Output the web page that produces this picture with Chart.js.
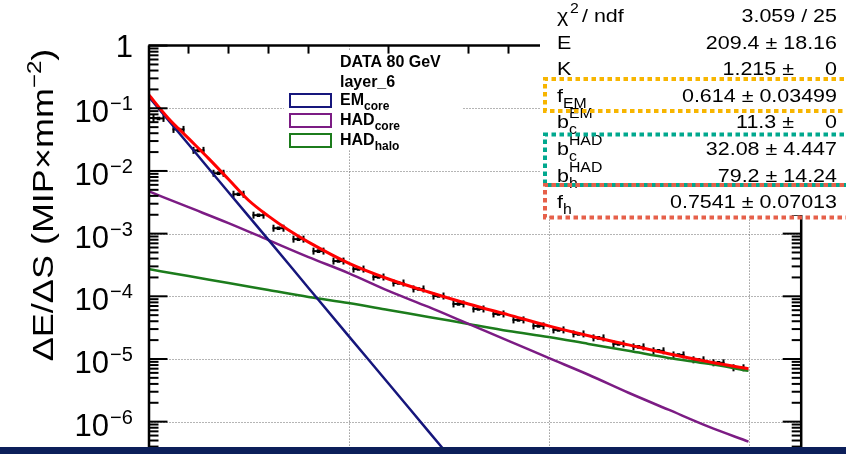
<!DOCTYPE html>
<html>
<head>
<meta charset="utf-8">
<script src="https://cdn.jsdelivr.net/npm/chart.js@4.4.1/dist/chart.umd.min.js"></script>
<style>
  html, body { margin: 0; padding: 0; background: #fff; }
  #wrap { position: relative; width: 846px; height: 454px; }
</style>
</head>
<body>
<div id="wrap"><canvas id="c" width="846" height="454"></canvas></div>
<script>
// ---- measured lateral profile (bin centres in mm, 5 mm bins) ----
const binCentres = [2.5, 7.5, 12.5, 17.5, 22.5, 27.5, 32.5, 37.5, 42.5, 47.5,
    52.5, 57.5, 62.5, 67.5, 72.5, 77.5, 82.5, 87.5, 92.5, 97.5,
    102.5, 107.5, 112.5, 117.5, 122.5, 127.5, 132.5, 137.5, 142.5, 147.5];
const dataValues = [0.0689, 0.0460, 0.0213, 0.00918, 0.00425, 0.00197, 0.00122, 8.17e-4, 5.26e-4, 3.65e-4,
    2.72e-4, 2.03e-4, 1.63e-4, 1.31e-4, 1.01e-4, 7.55e-5, 6.28e-5, 5.23e-5, 4.20e-5, 3.37e-5,
    2.91e-5, 2.51e-5, 2.17e-5, 1.74e-5, 1.56e-5, 1.35e-5, 1.16e-5, 9.70e-6, 8.69e-6, 7.23e-6];
const xError = 1.5;

// ---- fitted function and its components ----
const fitX = [0, 5, 10, 15, 20, 25, 30, 35, 40, 50, 60, 70, 80, 90, 100, 110, 120, 130, 140, 150];
const fitTotal = [0.166, 0.0689, 0.0331, 0.0159, 7.37e-3, 3.41e-3, 1.90e-3, 1.14e-3, 7.32e-4, 3.39e-4,
    1.89e-4, 1.17e-4, 7.55e-5, 5.05e-5, 3.37e-5, 2.34e-5, 1.68e-5, 1.21e-5, 9.02e-6, 6.97e-6];
const emX = [0, 10, 20, 30, 40, 50, 60, 70, 75];
const emCore = [0.154, 0.0266, 4.57e-3, 7.94e-4, 1.36e-4, 2.34e-5, 4.07e-6, 7.0e-7, 2.92e-7];
const hadX = [0, 10, 20, 30, 40, 50, 60, 70, 80, 90, 100, 110, 120, 130, 140, 150];
const hadCore = [4.75e-3, 2.64e-3, 1.47e-3, 7.87e-4, 4.22e-4, 2.35e-4, 1.22e-4, 6.76e-5,
    3.62e-5, 1.95e-5, 1.04e-5, 5.60e-6, 2.89e-6, 1.55e-6, 8.32e-7, 4.80e-7];
const hadHalo = [2.72e-4, 2.10e-4, 1.63e-4, 1.26e-4, 9.75e-5, 7.83e-5, 6.05e-5, 4.69e-5,
    3.62e-5, 2.80e-5, 2.25e-5, 1.74e-5, 1.35e-5, 1.04e-5, 8.37e-6, 6.48e-6];

// ---- axes ----
const yDecades = [1, 1e-1, 1e-2, 1e-3, 1e-4, 1e-5, 1e-6];
const yTickExp = ['', '\u22121', '\u22122', '\u22123', '\u22124', '\u22125', '\u22126'];
const xGridLines = [50, 100, 150];
const xTopTicks = [10, 20, 30, 40, 60, 80, 90];
const yTitle = ['\u0394E/\u0394S (MIP\u00d7mm', '\u22122', ')'];

// ---- legend / fit box text ----
const legendHeader = ['DATA 80 GeV', 'layer_6'];
const legendNames = [['EM', 'core'], ['HAD', 'core'], ['HAD', 'halo']];
const chi2Text = '3.059 / 25';
const parNames = ['E', 'K', 'f_EM', 'b_c^EM', 'b_c^HAD', 'b_h^HAD', 'f_h'];
const parValues = ['209.4', '1.215', '0.614', '11.3', '32.08', '79.2', '0.7541'];
const parErrors = ['18.16', '0', '0.03499', '0', '4.447', '14.24', '0.07013'];

const C_FIT = '#ff0000', C_EM = '#16167c', C_HADC = '#7c1c84', C_HALO = '#1c7c1c';
const FONT = "'Liberation Sans', Arial, Helvetica, sans-serif";

function txt(ctx, s, x, y, size, align, sx, bold) {
    ctx.save();
    ctx.font = (bold ? 'bold ' : '') + size + 'px ' + FONT;
    ctx.textAlign = align || 'left';
    ctx.textBaseline = 'alphabetic';
    ctx.translate(x, y);
    ctx.scale(sx || 1, 1);
    ctx.fillText(s, 0, 0);
    ctx.restore();
}
function width(ctx, s, size, sx, bold) {
    ctx.font = (bold ? 'bold ' : '') + size + 'px ' + FONT;
    return ctx.measureText(s).width * (sx || 1);
}
function seg(ctx, x1, y1, x2, y2) {
    ctx.beginPath(); ctx.moveTo(x1, y1); ctx.lineTo(x2, y2); ctx.stroke();
}

const rootStyle = {
    id: 'rootStyle',
    beforeDatasetsDraw(chart) {
        const { ctx, chartArea: a, scales: { x, y } } = chart;
        ctx.save();
        // dotted grid
        ctx.strokeStyle = '#6a6a6a';
        ctx.lineWidth = 1;
        ctx.setLineDash([1, 2]);
        yDecades.slice(1).forEach((v) => {
            const py = Math.round(y.getPixelForValue(v)) + 0.5;
            seg(ctx, a.left, py, a.right, py);
        });
        xGridLines.forEach((v) => {
            const px = Math.round(x.getPixelForValue(v)) + 0.5;
            seg(ctx, px, a.top, px, a.bottom);
        });
        ctx.setLineDash([]);
        // horizontal error bars with end caps
        ctx.strokeStyle = '#000';
        ctx.lineWidth = 2;
        binCentres.forEach((xc, i) => {
            const py = y.getPixelForValue(dataValues[i]);
            const x1 = x.getPixelForValue(xc - xError);
            const x2 = x.getPixelForValue(xc + xError);
            seg(ctx, x1, py, x2, py);
            seg(ctx, x1 + 1, py - 3.5, x1 + 1, py + 3.5);
            seg(ctx, x2 - 1, py - 3.5, x2 - 1, py + 3.5);
        });
        ctx.restore();
    },
    afterDatasetsDraw(chart) {
        const { ctx, chartArea: a, scales: { x, y } } = chart;
        ctx.save();
        ctx.fillStyle = '#000';

        // legend pave
        ctx.fillStyle = '#fff';
        ctx.fillRect(284, 50, 178, 100);
        ctx.fillStyle = '#000';
        txt(ctx, legendHeader[0], 340, 67, 16, 'left', 1, true);
        txt(ctx, legendHeader[1], 340, 87, 16, 'left', 1, true);
        [C_EM, C_HADC, C_HALO].forEach((col, i) => {
            const top = 94 + i * 20;
            ctx.strokeStyle = col;
            ctx.lineWidth = 2;
            ctx.strokeRect(290, top, 41, 13);
            const base = top + 11;
            txt(ctx, legendNames[i][0], 340, base, 16, 'left', 1, true);
            const w = width(ctx, legendNames[i][0], 16, 1, true);
            txt(ctx, legendNames[i][1], 340 + w, base + 5, 12, 'left', 1, true);
        });

        // frame
        ctx.strokeStyle = '#000';
        ctx.lineWidth = 2.5;
        seg(ctx, a.left + 0.5, a.top, a.left + 0.5, a.bottom);
        seg(ctx, a.right - 0.5, a.top, a.right - 0.5, a.bottom);
        seg(ctx, a.left, a.top, a.right, a.top);
        ctx.lineWidth = 2;
        for (let k = 0; k >= -7; k--) {
            for (let m = 1; m <= 9; m++) {
                const v = m * Math.pow(10, k);
                if (v > y.max * 1.0001 || v < y.min) continue;
                const py = y.getPixelForValue(v);
                const len = m === 1 ? 19 : 10;
                seg(ctx, a.left, py, a.left + len, py);
                seg(ctx, a.right - len, py, a.right, py);
            }
        }
        xTopTicks.forEach((v) => {
            const px = x.getPixelForValue(v);
            seg(ctx, px, a.top, px, a.top + 8);
        });

        // fit statistics box
        ctx.fillStyle = '#fff';
        ctx.fillRect(540, 0, 306, 215);
        ctx.fillStyle = '#000';
        const sx = 1.13, fs = 19, ss = 14, lx = 557, rx = 837;
        const row0 = 22, dRow = 26.6;
        txt(ctx, '\u03c7', lx, row0, fs, 'left', sx);
        txt(ctx, '2', lx + 13, row0 - 9, ss, 'left', sx);
        txt(ctx, '/ ndf', lx + 25, row0, fs, 'left', sx);
        txt(ctx, chi2Text, rx, row0, fs, 'right', sx);
        parNames.forEach((name, i) => {
            const base = row0 + dRow * (i + 1);
            const m = name.match(/^([^_^]+)(?:_([^_^]+))?(?:\^([^_^]+))?$/);
            txt(ctx, m[1], lx, base, fs, 'left', sx);
            const w = width(ctx, m[1], fs, sx);
            if (m[2]) txt(ctx, m[2], lx + w, base + 6, ss, 'left', sx);
            if (m[3]) txt(ctx, m[3], lx + w, base - 10, ss, 'left', sx);
            if (parErrors[i] === '0') {
                txt(ctx, parValues[i] + ' \u00b1', 794, base, fs, 'right', sx);
                txt(ctx, parErrors[i], rx, base, fs, 'right', sx);
            } else {
                txt(ctx, parValues[i] + ' \u00b1 ' + parErrors[i], rx, base, fs, 'right', sx);
            }
        });
        // highlighted parameter groups
        ctx.lineWidth = 4;
        ctx.setLineDash([4.5, 3.5]);
        [['#f7b500', 79, 111], ['#00a88e', 134.5, 185], ['#e6604a', 185, 217.5]].forEach(([col, t, b]) => {
            ctx.strokeStyle = col;
            ctx.beginPath();
            ctx.moveTo(852, t);
            ctx.lineTo(545, t);
            ctx.lineTo(545, b);
            ctx.lineTo(852, b);
            ctx.stroke();
        });
        ctx.setLineDash([]);

        // y tick labels and title
        ctx.fillStyle = '#000';
        yDecades.forEach((v, i) => {
            const py = y.getPixelForValue(v);
            if (!yTickExp[i]) {
                txt(ctx, '1', 133, py + 11.5, 31, 'right');
            } else {
                txt(ctx, '10', 109, py + 14, 31, 'right');
                txt(ctx, yTickExp[i], 110, py + 2, 20, 'left');
            }
        });
        ctx.save();
        ctx.translate(53, 205);
        ctx.rotate(-Math.PI / 2);
        const ts = 1.2;
        const w0 = width(ctx, yTitle[0], 30, ts), w1 = width(ctx, yTitle[1], 20, ts), w2 = width(ctx, yTitle[2], 30, ts);
        let cx = -(w0 + w1 + w2) / 2;
        txt(ctx, yTitle[0], cx, 0, 30, 'left', ts); cx += w0;
        txt(ctx, yTitle[1], cx, -12, 20, 'left', ts); cx += w1;
        txt(ctx, yTitle[2], cx, 0, 30, 'left', ts);
        ctx.restore();

        // slide footer band
        ctx.fillStyle = '#0c1f5a';
        ctx.fillRect(0, 447, chart.width, chart.height - 447);
        ctx.restore();
    }
};

const pts = (xs, ys) => xs.map((v, i) => ({ x: v, y: ys[i] }));

new Chart(document.getElementById('c'), {
    type: 'scatter',
    data: {
        datasets: [
            { label: 'fit', data: pts(fitX, fitTotal), showLine: true, borderColor: C_FIT, borderWidth: 3,
              pointRadius: 0, cubicInterpolationMode: 'monotone' },
            { label: 'EM core', data: pts(emX, emCore), showLine: true, borderColor: C_EM, borderWidth: 2.5,
              pointRadius: 0, cubicInterpolationMode: 'monotone' },
            { label: 'HAD core', data: pts(hadX, hadCore), showLine: true, borderColor: C_HADC, borderWidth: 2.5,
              pointRadius: 0, cubicInterpolationMode: 'monotone' },
            { label: 'HAD halo', data: pts(hadX, hadHalo), showLine: true, borderColor: C_HALO, borderWidth: 2.5,
              pointRadius: 0, cubicInterpolationMode: 'monotone' },
            { label: 'data', data: pts(binCentres, dataValues), showLine: false, pointStyle: 'rect',
              pointRadius: 2.5, backgroundColor: '#000', borderColor: '#000', borderWidth: 0 },
        ],
    },
    options: {
        responsive: false,
        animation: false,
        devicePixelRatio: 1,
        layout: { padding: { left: 148.5, right: 44.3, top: 45.6, bottom: 7 } },
        scales: {
            x: { type: 'linear', min: 0, max: 163.3, display: false },
            y: { type: 'logarithmic', min: 3.94e-7, max: 1, display: false },
        },
        plugins: { legend: { display: false }, tooltip: { enabled: false } },
    },
    plugins: [rootStyle],
});
</script>
</body>
</html>
